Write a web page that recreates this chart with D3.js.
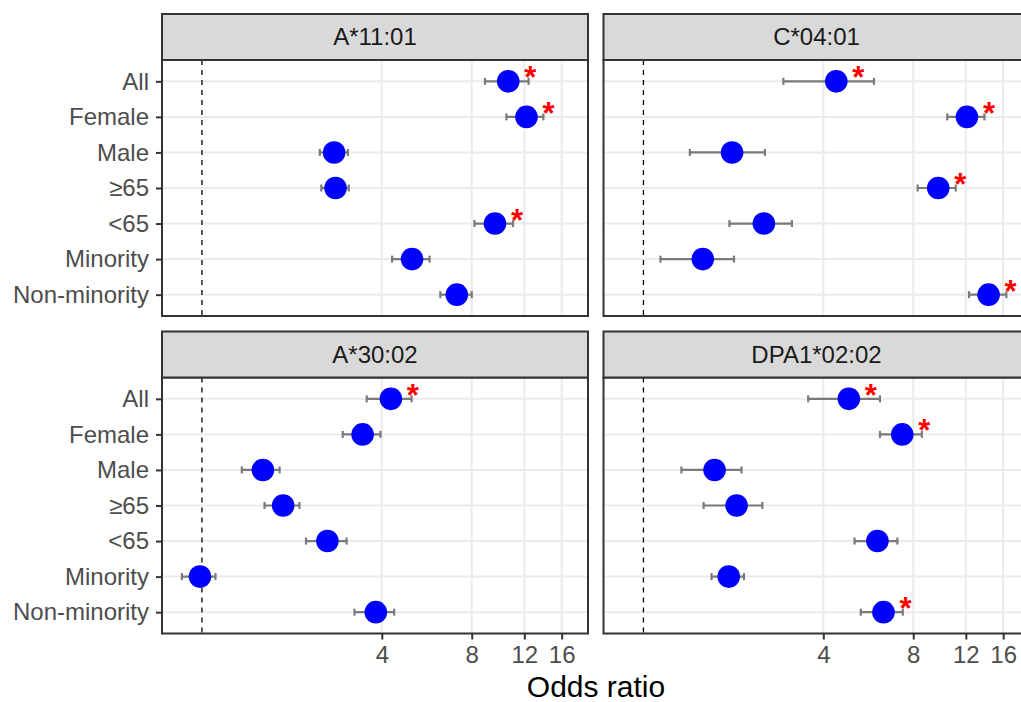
<!DOCTYPE html>
<html>
<head>
<meta charset="utf-8">
<script src="https://cdn.jsdelivr.net/npm/d3@7"></script>
<style>
  body { margin: 0; background: #fff; }
  svg text { font-family: "Liberation Sans", Arial, Helvetica, sans-serif; }
</style>
</head>
<body>
<div id="chart"></div>
<script>
// subgroups (rows) and alleles (facets)
var groups = ["All", "Female", "Male", "≥65", "<65", "Minority", "Non-minority"];
var alleles = ["A*11:01", "C*04:01", "A*30:02", "DPA1*02:02"];

// odds ratio and 95% CI per allele, in the order of groups
var oddsRatio = [
    [10.6, 12.2, 2.77, 2.80, 9.57, 5.05, 7.13],
    [4.42, 12.1, 1.98, 9.70, 2.53, 1.58, 14.3],
    [4.29, 3.45, 1.60, 1.87, 2.63, 0.985, 3.82],
    [4.87, 7.35, 1.73, 2.05, 6.07, 1.93, 6.36]
];
var lowerCI = [
    [8.86, 10.45, 2.48, 2.51, 8.17, 4.33, 6.28],
    [2.94, 10.4, 1.43, 8.28, 1.94, 1.14, 12.3],
    [3.56, 2.96, 1.36, 1.62, 2.23, 0.857, 3.24],
    [3.56, 6.19, 1.34, 1.59, 5.09, 1.69, 5.34]
];
var upperCI = [
    [12.4, 13.9, 3.08, 3.10, 11.0, 5.78, 8.0],
    [5.91, 13.85, 2.55, 11.1, 3.14, 2.01, 16.4],
    [5.03, 3.96, 1.82, 2.12, 3.05, 1.11, 4.40],
    [6.19, 8.55, 2.13, 2.50, 7.08, 2.17, 7.38]
];
var significant = [
    [1, 1, 0, 0, 1, 0, 0],
    [1, 1, 0, 1, 0, 0, 1],
    [1, 0, 0, 0, 0, 0, 0],
    [1, 1, 0, 0, 0, 0, 1]
];
var xTicks = [4, 8, 12, 16];

// layout
var panelW = 426, panelH = 256, stripH = 46;
var colX = [162, 603.5];
var rowY = [60, 377.5];

var svg = d3.select("#chart")
  .append("svg")
    .attr("width", 1021)
    .attr("height", 702);

var x = d3.scaleLog()
    .domain([0.735, 19.6])
    .range([0, panelW]);

var y = d3.scalePoint()
    .domain(groups)
    .range([0, panelH])
    .padding(0.6);

alleles.forEach(function(allele, i) {
    var col = i % 2, row = Math.floor(i / 2);
    var g = svg.append("g")
        .attr("transform", "translate(" + colX[col] + "," + rowY[row] + ")");

    var data = groups.map(function(grp, j) {
        return {group: grp, or: oddsRatio[i][j], lo: lowerCI[i][j],
                hi: upperCI[i][j], sig: significant[i][j]};
    });

    // grid
    g.selectAll(".hgrid")
      .data(groups)
      .enter()
      .append("line")
        .attr("x1", 0).attr("x2", panelW)
        .attr("y1", function(d) { return y(d); })
        .attr("y2", function(d) { return y(d); })
        .attr("stroke", "#ebebeb")
        .attr("stroke-width", 2);
    g.selectAll(".vgrid")
      .data(xTicks)
      .enter()
      .append("line")
        .attr("x1", function(d) { return x(d); })
        .attr("x2", function(d) { return x(d); })
        .attr("y1", 0).attr("y2", panelH)
        .attr("stroke", "#ebebeb")
        .attr("stroke-width", 2);

    // reference line at OR = 1
    g.append("line")
        .attr("x1", x(1)).attr("x2", x(1))
        .attr("y1", 0).attr("y2", panelH)
        .attr("stroke", "#000")
        .attr("stroke-width", 1.3)
        .attr("stroke-dasharray", "5,5");

    // error bars
    var eb = g.selectAll(".eb")
      .data(data)
      .enter()
      .append("g");
    eb.append("line")
        .attr("x1", function(d) { return x(d.lo); })
        .attr("x2", function(d) { return x(d.hi); })
        .attr("y1", function(d) { return y(d.group); })
        .attr("y2", function(d) { return y(d.group); })
        .attr("stroke", "#7a7a7a")
        .attr("stroke-width", 2.2);
    ["lo", "hi"].forEach(function(k) {
        eb.append("line")
            .attr("x1", function(d) { return x(d[k]); })
            .attr("x2", function(d) { return x(d[k]); })
            .attr("y1", function(d) { return y(d.group) - 3.5; })
            .attr("y2", function(d) { return y(d.group) + 3.5; })
            .attr("stroke", "#7a7a7a")
            .attr("stroke-width", 2.2);
    });

    // points
    g.selectAll(".pt")
      .data(data)
      .enter()
      .append("circle")
        .attr("cx", function(d) { return x(d.or); })
        .attr("cy", function(d) { return y(d.group); })
        .attr("r", 11.3)
        .attr("fill", "#0000ff");

    // significance markers
    g.selectAll(".star")
      .data(data.filter(function(d) { return d.sig; }))
      .enter()
      .append("text")
        .attr("x", function(d) { return x(d.or) + 22; })
        .attr("y", function(d) { return y(d.group) + 7; })
        .attr("text-anchor", "middle")
        .style("font-size", "31px")
        .style("font-weight", "bold")
        .attr("fill", "#ff0000")
        .text("*");

    // panel border
    g.append("rect")
        .attr("width", panelW).attr("height", panelH)
        .attr("fill", "none")
        .attr("stroke", "#333")
        .attr("stroke-width", 2);

    // strip
    g.append("rect")
        .attr("y", -stripH)
        .attr("width", panelW).attr("height", stripH)
        .attr("fill", "#d9d9d9")
        .attr("stroke", "#333")
        .attr("stroke-width", 2);
    g.append("text")
        .attr("x", panelW / 2)
        .attr("y", -stripH / 2)
        .attr("dy", "0.35em")
        .attr("text-anchor", "middle")
        .style("font-size", "24px")
        .attr("fill", "#1a1a1a")
        .text(allele);

    // y axis on left column
    if (col === 0) {
        var ya = g.append("g")
            .call(d3.axisLeft(y).tickSize(6).tickPadding(7));
        ya.select(".domain").remove();
        ya.selectAll("line").attr("stroke", "#333").attr("stroke-width", 2);
        ya.selectAll("text")
            .style("font-size", "24px")
            .attr("fill", "#4d4d4d");
    }

    // x axis on bottom row
    if (row === 1) {
        var xa = g.append("g")
            .attr("transform", "translate(0," + panelH + ")")
            .call(d3.axisBottom(x).tickValues(xTicks).tickFormat(d3.format("d"))
                  .tickSize(6).tickPadding(6));
        xa.select(".domain").remove();
        xa.selectAll("line").attr("stroke", "#333").attr("stroke-width", 2);
        xa.selectAll("text")
            .style("font-size", "24px")
            .attr("fill", "#4d4d4d");
    }
});

// x axis title
svg.append("text")
    .attr("x", 596)
    .attr("y", 697)
    .attr("text-anchor", "middle")
    .style("font-size", "30px")
    .attr("fill", "#000")
    .text("Odds ratio");
</script>
</body>
</html>
